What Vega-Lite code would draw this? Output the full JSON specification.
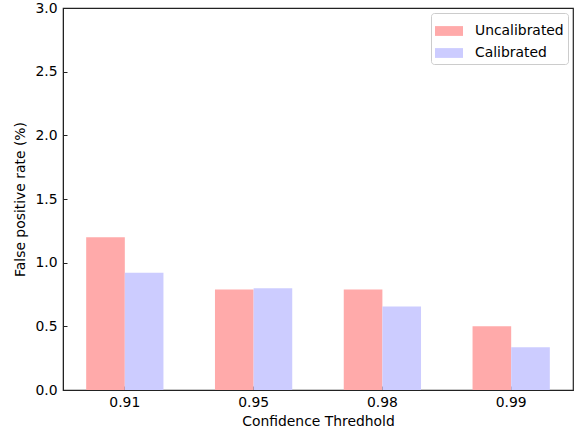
{
  "$schema": "https://vega.github.io/schema/vega-lite/v6.json",
  "width": 510,
  "height": 382,
  "autosize": {"type": "none"},
  "padding": {"left": 63, "top": 8, "right": 6, "bottom": 43},
  "background": "white",
  "config": {
    "font": "DejaVu Sans",
    "view": {"stroke": "#222", "strokeWidth": 1.2},
    "axis": {
      "labelFont": "DejaVu Sans",
      "titleFont": "DejaVu Sans",
      "labelFontSize": 13.9,
      "titleFontSize": 13.9,
      "titleFontWeight": "normal",
      "labelColor": "#000",
      "titleColor": "#000",
      "domainColor": "#222",
      "tickColor": "#222",
      "grid": false
    },
    "legend": {
      "labelFont": "DejaVu Sans",
      "labelFontSize": 13.9,
      "labelColor": "#000"
    }
  },
  "data": {
    "values": [
      {"threshold": "0.91", "method": "Uncalibrated", "rate": 1.2},
      {"threshold": "0.91", "method": "Calibrated", "rate": 0.92},
      {"threshold": "0.95", "method": "Uncalibrated", "rate": 0.79},
      {"threshold": "0.95", "method": "Calibrated", "rate": 0.8},
      {"threshold": "0.98", "method": "Uncalibrated", "rate": 0.79},
      {"threshold": "0.98", "method": "Calibrated", "rate": 0.655},
      {"threshold": "0.99", "method": "Uncalibrated", "rate": 0.5},
      {"threshold": "0.99", "method": "Calibrated", "rate": 0.335}
    ]
  },
  "mark": {"type": "bar"},
  "encoding": {
    "x": {
      "field": "threshold",
      "type": "nominal",
      "sort": null,
      "scale": {"paddingInner": 0.4, "paddingOuter": 0.18},
      "axis": {
        "title": "Confidence Thredhold",
        "labelAngle": 0,
        "tickSize": -4,
        "labelPadding": 9,
        "titlePadding": 6
      }
    },
    "xOffset": {
      "field": "method",
      "type": "nominal",
      "sort": ["Uncalibrated", "Calibrated"],
      "scale": {"paddingInner": 0, "paddingOuter": 0}
    },
    "y": {
      "field": "rate",
      "type": "quantitative",
      "scale": {"domain": [0, 3], "nice": false},
      "axis": {
        "title": "False positive rate (%)",
        "values": [0, 0.5, 1, 1.5, 2, 2.5, 3],
        "format": ".1f",
        "tickSize": -4,
        "labelPadding": 10,
        "titlePadding": 7
      }
    },
    "color": {
      "field": "method",
      "type": "nominal",
      "sort": ["Uncalibrated", "Calibrated"],
      "scale": {"domain": ["Uncalibrated", "Calibrated"], "range": ["#ffaaaa", "#ccccff"]},
      "legend": {
        "title": null,
        "orient": "top-right",
        "offset": 5,
        "padding": 4,
        "strokeColor": "#cccccc",
        "fillColor": "white",
        "cornerRadius": 3,
        "symbolType": "M-1,-0.35H1V0.35H-1Z",
        "symbolSize": 784,
        "symbolStrokeWidth": 0,
        "symbolOpacity": 1,
        "rowPadding": 1,
        "labelOffset": 12
      }
    }
  }
}
